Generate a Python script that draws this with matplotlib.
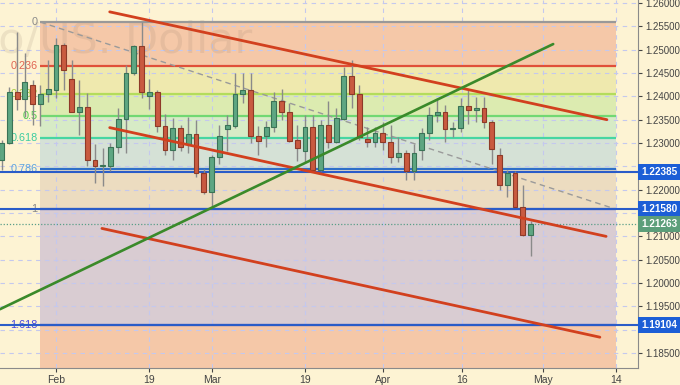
import numpy as np
import matplotlib
matplotlib.use("Agg")
import matplotlib.pyplot as plt
import matplotlib.transforms as mtransforms

plt.rcParams["font.family"] = "Liberation Sans"

# Daily candles, index 0 = Feb 1 (trading days)
idx = np.arange(-7, 62)
opens = [1.2264, 1.2301, 1.2410, 1.2395, 1.2425, 1.2384, 1.2406, 1.2414, 1.2510, 1.2438,
         1.2367, 1.2378, 1.2264, 1.2250, 1.2250, 1.2292, 1.2352, 1.2450, 1.2508, 1.2401,
         1.2410, 1.2337, 1.2284, 1.2333, 1.2297, 1.2320, 1.2235, 1.2194, 1.2269, 1.2331,
         1.2337, 1.2406, 1.2414, 1.2314, 1.2314, 1.2335, 1.2391, 1.2367, 1.2307, 1.2282,
         1.2335, 1.2243, 1.2339, 1.2303, 1.2352, 1.2444, 1.2406, 1.2309, 1.2303, 1.2322,
         1.2303, 1.2271, 1.2279, 1.2241, 1.2286, 1.2322, 1.2359, 1.2367, 1.2329, 1.2333,
         1.2380, 1.2371, 1.2376, 1.2346, 1.2275, 1.2209, 1.2235, 1.2162, 1.2104]
highs = [1.2307, 1.2420, 1.2538, 1.2493, 1.2435, 1.2425, 1.2478, 1.2525, 1.2515, 1.2478,
         1.2435, 1.2408, 1.2297, 1.2290, 1.2301, 1.2376, 1.2468, 1.2510, 1.2559, 1.2438,
         1.2414, 1.2363, 1.2354, 1.2339, 1.2356, 1.2350, 1.2245, 1.2275, 1.2339, 1.2361,
         1.2450, 1.2450, 1.2450, 1.2337, 1.2348, 1.2410, 1.2416, 1.2386, 1.2339, 1.2359,
         1.2359, 1.2350, 1.2391, 1.2376, 1.2463, 1.2478, 1.2425, 1.2335, 1.2335, 1.2346,
         1.2339, 1.2312, 1.2286, 1.2297, 1.2333, 1.2378, 1.2397, 1.2382, 1.2346, 1.2397,
         1.2414, 1.2399, 1.2399, 1.2350, 1.2290, 1.2243, 1.2239, 1.2211, 1.2132]
lows = [1.2243, 1.2297, 1.2371, 1.2356, 1.2339, 1.2337, 1.2388, 1.2397, 1.2414, 1.2367,
        1.2318, 1.2250, 1.2215, 1.2207, 1.2239, 1.2279, 1.2279, 1.2446, 1.2397, 1.2373,
        1.2324, 1.2275, 1.2264, 1.2282, 1.2279, 1.2228, 1.2190, 1.2162, 1.2254, 1.2282,
        1.2333, 1.2386, 1.2301, 1.2275, 1.2292, 1.2324, 1.2350, 1.2303, 1.2262, 1.2260,
        1.2241, 1.2241, 1.2290, 1.2300, 1.2350, 1.2376, 1.2307, 1.2292, 1.2292, 1.2286,
        1.2258, 1.2260, 1.2220, 1.2220, 1.2264, 1.2307, 1.2346, 1.2303, 1.2312, 1.2324,
        1.2341, 1.2346, 1.2333, 1.2254, 1.2200, 1.2185, 1.2162, 1.2100, 1.2059]
closes = [1.2301, 1.2410, 1.2395, 1.2431, 1.2384, 1.2406, 1.2416, 1.2510, 1.2457, 1.2367,
          1.2378, 1.2264, 1.2250, 1.2252, 1.2292, 1.2352, 1.2450, 1.2508, 1.2410, 1.2410,
          1.2337, 1.2284, 1.2333, 1.2292, 1.2320, 1.2235, 1.2194, 1.2269, 1.2316, 1.2339,
          1.2406, 1.2414, 1.2314, 1.2305, 1.2335, 1.2391, 1.2367, 1.2305, 1.2290, 1.2335,
          1.2243, 1.2339, 1.2303, 1.2354, 1.2444, 1.2406, 1.2312, 1.2303, 1.2322, 1.2303,
          1.2271, 1.2279, 1.2241, 1.2279, 1.2322, 1.2359, 1.2367, 1.2329, 1.2333, 1.2380,
          1.2371, 1.2376, 1.2346, 1.2288, 1.2209, 1.2235, 1.2162, 1.2104, 1.2126]

tick_pos = [0, 12, 20, 32, 42, 52.2, 62.6, 72]
tick_labels = ["Feb", "19", "Mar", "19", "Apr", "16", "May", "14"]

# Fibonacci tool
fib_x = [-2, 72]
fib_p0, fib_p1 = 1.2559, 1.2158
fib_ratios = [0, 0.236, 0.382, 0.5, 0.618, 0.786, 1, 1.618, 2.618]
fib_line_col = ["#999999", "#e0503a", "#b4dc5c", "#72d872", "#46d6a2", "#2f6fc8",
                "#2f55c4", "#3545c8", None]
fib_text_col = ["#8a8a8a", "#e06452", "#a6cc3c", "#4ccc4c", "#3ccca0", "#5aa2e0",
                "#888888", "#4444e0", None]
band_col = ["#f5c8a8", "#efe9ae", "#dcebb0", "#d7ebc6", "#d5e1d6", "#ecdcc0",
            "#d9ccd2", "#f5c8a8"]

# drawn trend lines: (x0, x1, price0, price1)
red_lines = [(6.9, 70.8, 1.2581, 1.2350),
             (6.9, 70.7, 1.2333, 1.2100),
             (5.9, 69.9, 1.2117, 1.1884)]
green_line = (-7.2, 63.9, 1.1944, 1.2512)

# marked prices on the right scale
h_levels = [1.22385, 1.21580, 1.19104]
last_price = 1.21263
y_ticks = [1.185, 1.190, 1.195, 1.200, 1.205, 1.210, 1.215, 1.220, 1.225,
           1.230, 1.235, 1.240, 1.245, 1.250, 1.255, 1.260]
hidden_ticks = [1.190, 1.215, 1.225]

fig = plt.figure(figsize=(6.8, 3.85), dpi=100)
fig.patch.set_facecolor("#fdf3d3")
ax = fig.add_axes([0, 17 / 385, 638 / 680, 368 / 385])
ax.set_facecolor("#fdf3d3")
ax.set_xlim(-7.2, 74.8)
ax.set_ylim(1.18180, 1.26064)

fib_prices = [fib_p0 - r * (fib_p0 - fib_p1) for r in fib_ratios]
for i in range(len(band_col)):
    ax.fill_between(fib_x, fib_prices[i + 1], fib_prices[i], color=band_col[i],
                    lw=0, zorder=0.2)
for i in range(len(fib_ratios) - 1):
    ax.hlines(fib_prices[i], fib_x[0], fib_x[1], color=fib_line_col[i], lw=1.6, zorder=0.8)
    lab = "%g" % fib_ratios[i]
    ax.text(fib_x[0] - 0.35, fib_prices[i], lab, color=fib_text_col[i], fontsize=7.8,
            ha="right", va="center", zorder=0.9)

# watermark
ax.text(252 / 638, 0.855, "Euro/US. Dollar", transform=ax.transAxes, fontsize=31,
        family="DejaVu Sans", color="#8c7a66", alpha=0.14, ha="right", va="baseline",
        zorder=0.6)

# grid
ax.set_axisbelow(True)
ax.grid(True, color="#c4c8ee", lw=0.8, linestyle=(0, (4, 4)))

# fib diagonal
ax.plot(fib_x, [fib_p0, fib_p1], color="#9a9a9a", lw=1, linestyle=(0, (4, 3)), zorder=1)

# full-width horizontal lines
for p in h_levels:
    ax.axhline(p, color="#2a5cc8", lw=1.5, zorder=1.1)
ax.axhline(last_price, color="#5a9e88", lw=0.9, linestyle=(0, (1, 1.5)), zorder=1.1)

# candles
o = np.array(opens); c = np.array(closes)
up = c >= o
ax.vlines(idx, lows, highs, color="#8a8a8a", lw=1, zorder=2)
ax.bar(idx[up], (c - o)[up], bottom=o[up], width=0.62, color="#5ea682",
       edgecolor="#3a7356", lw=0.8, zorder=2.2)
ax.bar(idx[~up], (o - c)[~up], bottom=c[~up], width=0.62, color="#c95a40",
       edgecolor="#8e3a28", lw=0.8, zorder=2.2)

# trend lines
for x0, x1, p0, p1 in red_lines:
    ax.plot([x0, x1], [p0, p1], color="#d2401e", lw=2.0, solid_capstyle="round", zorder=3)
ax.plot(green_line[:2], green_line[2:], color="#3a8a2a", lw=1.9, solid_capstyle="round", zorder=3)

# axes styling
ax.yaxis.tick_right()
ax.set_yticks(y_ticks)
ax.set_yticklabels(["" if any(abs(t - h) < 1e-9 for h in hidden_ticks) else "%.5f" % t
                    for t in y_ticks])
ax.set_xticks(tick_pos)
ax.set_xticklabels(tick_labels)
ax.tick_params(axis="both", labelsize=7.0, colors="#444444", length=3, width=0.8)
ax.tick_params(axis="y", pad=2.5)
ax.tick_params(axis="x", pad=2, labelsize=7.5)
for s in ["left", "top"]:
    ax.spines[s].set_visible(False)
for s in ["right", "bottom"]:
    ax.spines[s].set_color("#8a8a8a")

# price boxes on the scale
trans = mtransforms.blended_transform_factory(ax.transAxes, ax.transData)
for p in h_levels:
    ax.text(1.005, p, "%.5f" % p, transform=trans, ha="left", va="center", fontsize=7.2,
            fontweight="bold", color="white", clip_on=False, zorder=5,
            bbox=dict(boxstyle="square,pad=0.3", fc="#1c5ed6", ec="none"))
ax.text(1.005, last_price, "%.5f" % last_price, transform=trans, ha="left", va="center",
        fontsize=7.2, fontweight="bold", color="white", clip_on=False, zorder=5,
        bbox=dict(boxstyle="square,pad=0.3", fc="#5c9e7a", ec="none"))

fig.savefig("out.png", dpi=100, facecolor=fig.get_facecolor())
